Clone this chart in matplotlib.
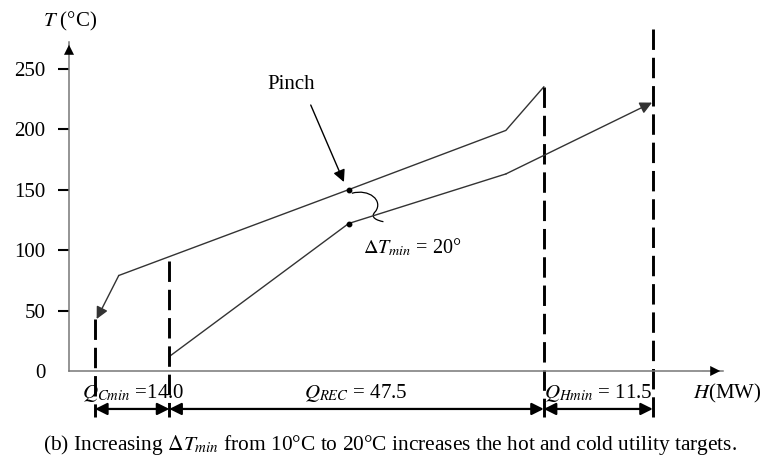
import numpy as np
import matplotlib.pyplot as plt
from matplotlib.path import Path
from matplotlib.patches import PathPatch

plt.rcParams['font.family'] = ['Liberation Serif', 'DejaVu Serif']
plt.rcParams['mathtext.fontset'] = 'stix'

# composite curves (H as drawn, not to scale; T in deg C)
H_hot = [60.1, 55.3, 35.4, 6.3]
T_hot = [235, 199, 150, 79]
H_hot_end = [3.5]
T_hot_end = [43]

H_cold = [12.7, 35.4, 55.3]
T_cold = [12, 122, 163]
H_cold_end = [73.8]
T_cold_end = [222]

pinch_H = 35.4
pinch_T = [150, 122]

# vertical dashed boundaries
dash_H = [3.3, 12.7, 60.1, 73.9]
dash_top = [43, 91, 235, 283]
dash_bottom = -38

# dimension arrows
dim_T = -31.4
dim_labels = [r'$Q_{Cmin}$ =14.0', r'$Q_{REC}$ = 47.5', r'$Q_{Hmin}$ = 11.5']
dim_label_H = [8.1, 36.3, 67.0]

yticks = [0, 50, 100, 150, 200, 250]

W, Hpx = 775, 465
fig = plt.figure(figsize=(W / 100, Hpx / 100), dpi=100)
x0, y0, x1, y1 = 69, 371, 723, 42
ax = fig.add_axes([x0 / W, (Hpx - y0) / Hpx, (x1 - x0) / W, (y0 - y1) / Hpx])
ax.set_xlim(0, (x1 - x0) / 7.9)
ax.set_ylim(0, (y0 - y1) / 1.209)

for s in ['top', 'right']:
    ax.spines[s].set_visible(False)
for s in ['left', 'bottom']:
    ax.spines[s].set_color('#777777')
    ax.spines[s].set_linewidth(1.1)
ax.set_xticks([])
ax.set_yticks(yticks)
ax.tick_params(axis='y', direction='out', length=8, width=1.5, color='black',
               labelsize=15, pad=9)
ax.yaxis.get_major_ticks()[0].tick1line.set_visible(False)

xmax, ymax = ax.get_xlim()[1], ax.get_ylim()[1]
ax.annotate('', xy=(xmax, 0), xytext=(xmax - 3, 0), annotation_clip=False,
            arrowprops=dict(arrowstyle='-|>', color='black', lw=0.01, mutation_scale=18))
ax.annotate('', xy=(0, ymax), xytext=(0, ymax - 15), annotation_clip=False,
            arrowprops=dict(arrowstyle='-|>', color='black', lw=0.01, mutation_scale=18))

lc = '#333333'
# hot composite
ax.plot(H_hot, T_hot, color=lc, lw=1.0)
ax.annotate('', xy=(H_hot_end[0], T_hot_end[0]), xytext=(H_hot[-1], T_hot[-1]),
            arrowprops=dict(arrowstyle='-|>', color=lc, lw=1.0, mutation_scale=18,
                            shrinkA=0, shrinkB=0))
# cold composite
ax.plot(H_cold, T_cold, color=lc, lw=1.0)
ax.annotate('', xy=(H_cold_end[0], T_cold_end[0]), xytext=(H_cold[-1], T_cold[-1]),
            arrowprops=dict(arrowstyle='-|>', color=lc, lw=1.0, mutation_scale=18,
                            shrinkA=0, shrinkB=0))
ax.plot([pinch_H, pinch_H], pinch_T, 'o', color='black', ms=3.2)

# dashed lines
for h, t in zip(dash_H, dash_top):
    ax.plot([h, h], [t, dash_bottom], color='black', lw=2.1, dashes=(7, 2.7),
            clip_on=False)

# dimension arrows
for a, b in zip(dash_H[:-1], dash_H[1:]):
    ax.annotate('', xy=(b, dim_T), xytext=(a, dim_T), annotation_clip=False,
                arrowprops=dict(arrowstyle='<|-|>', color='black', lw=1.6,
                                mutation_scale=18, shrinkA=0, shrinkB=0))
for lab, h in zip(dim_labels, dim_label_H):
    ax.text(h, -18.5, lab, ha='center', va='center', fontsize=15, clip_on=False)
ax.text(83.3, -18.5, r'$H$(MW)', ha='center', va='center', fontsize=15, clip_on=False)
ax.text(0.1, 289.5, r'$T$ (°C)', ha='center', va='center', fontsize=15, clip_on=False)

# pinch annotation
ax.text(28.1, 236.6, 'Pinch', ha='center', va='center', fontsize=15)
ax.annotate('', xy=(34.8, 156.3), xytext=(30.6, 220),
            arrowprops=dict(arrowstyle='-|>', color='black', lw=1.0, mutation_scale=18,
                            shrinkA=0, shrinkB=0))
brace = Path([(35.8, 147), (38.0, 151), (39.8, 141), (38.8, 132),
              (38.0, 127), (39.0, 124.5), (39.8, 123.5)],
             [Path.MOVETO, Path.CURVE4, Path.CURVE4, Path.CURVE4,
              Path.CURVE4, Path.CURVE4, Path.CURVE4])
ax.add_patch(PathPatch(brace, fill=False, color='black', lw=0.9))
ax.text(43.4, 102.6, r'$\mathit{\Delta T}_{min}$ = 20°', ha='center', va='center',
        fontsize=14.5)

fig.text(390 / W, 1 - 445 / Hpx,
         r'(b) Increasing $\mathit{\Delta T}_{min}$ from 10°C to 20°C increases the hot and cold utility targets.',
         ha='center', va='center', fontsize=15.4)

fig.savefig('out.png', dpi=100)
